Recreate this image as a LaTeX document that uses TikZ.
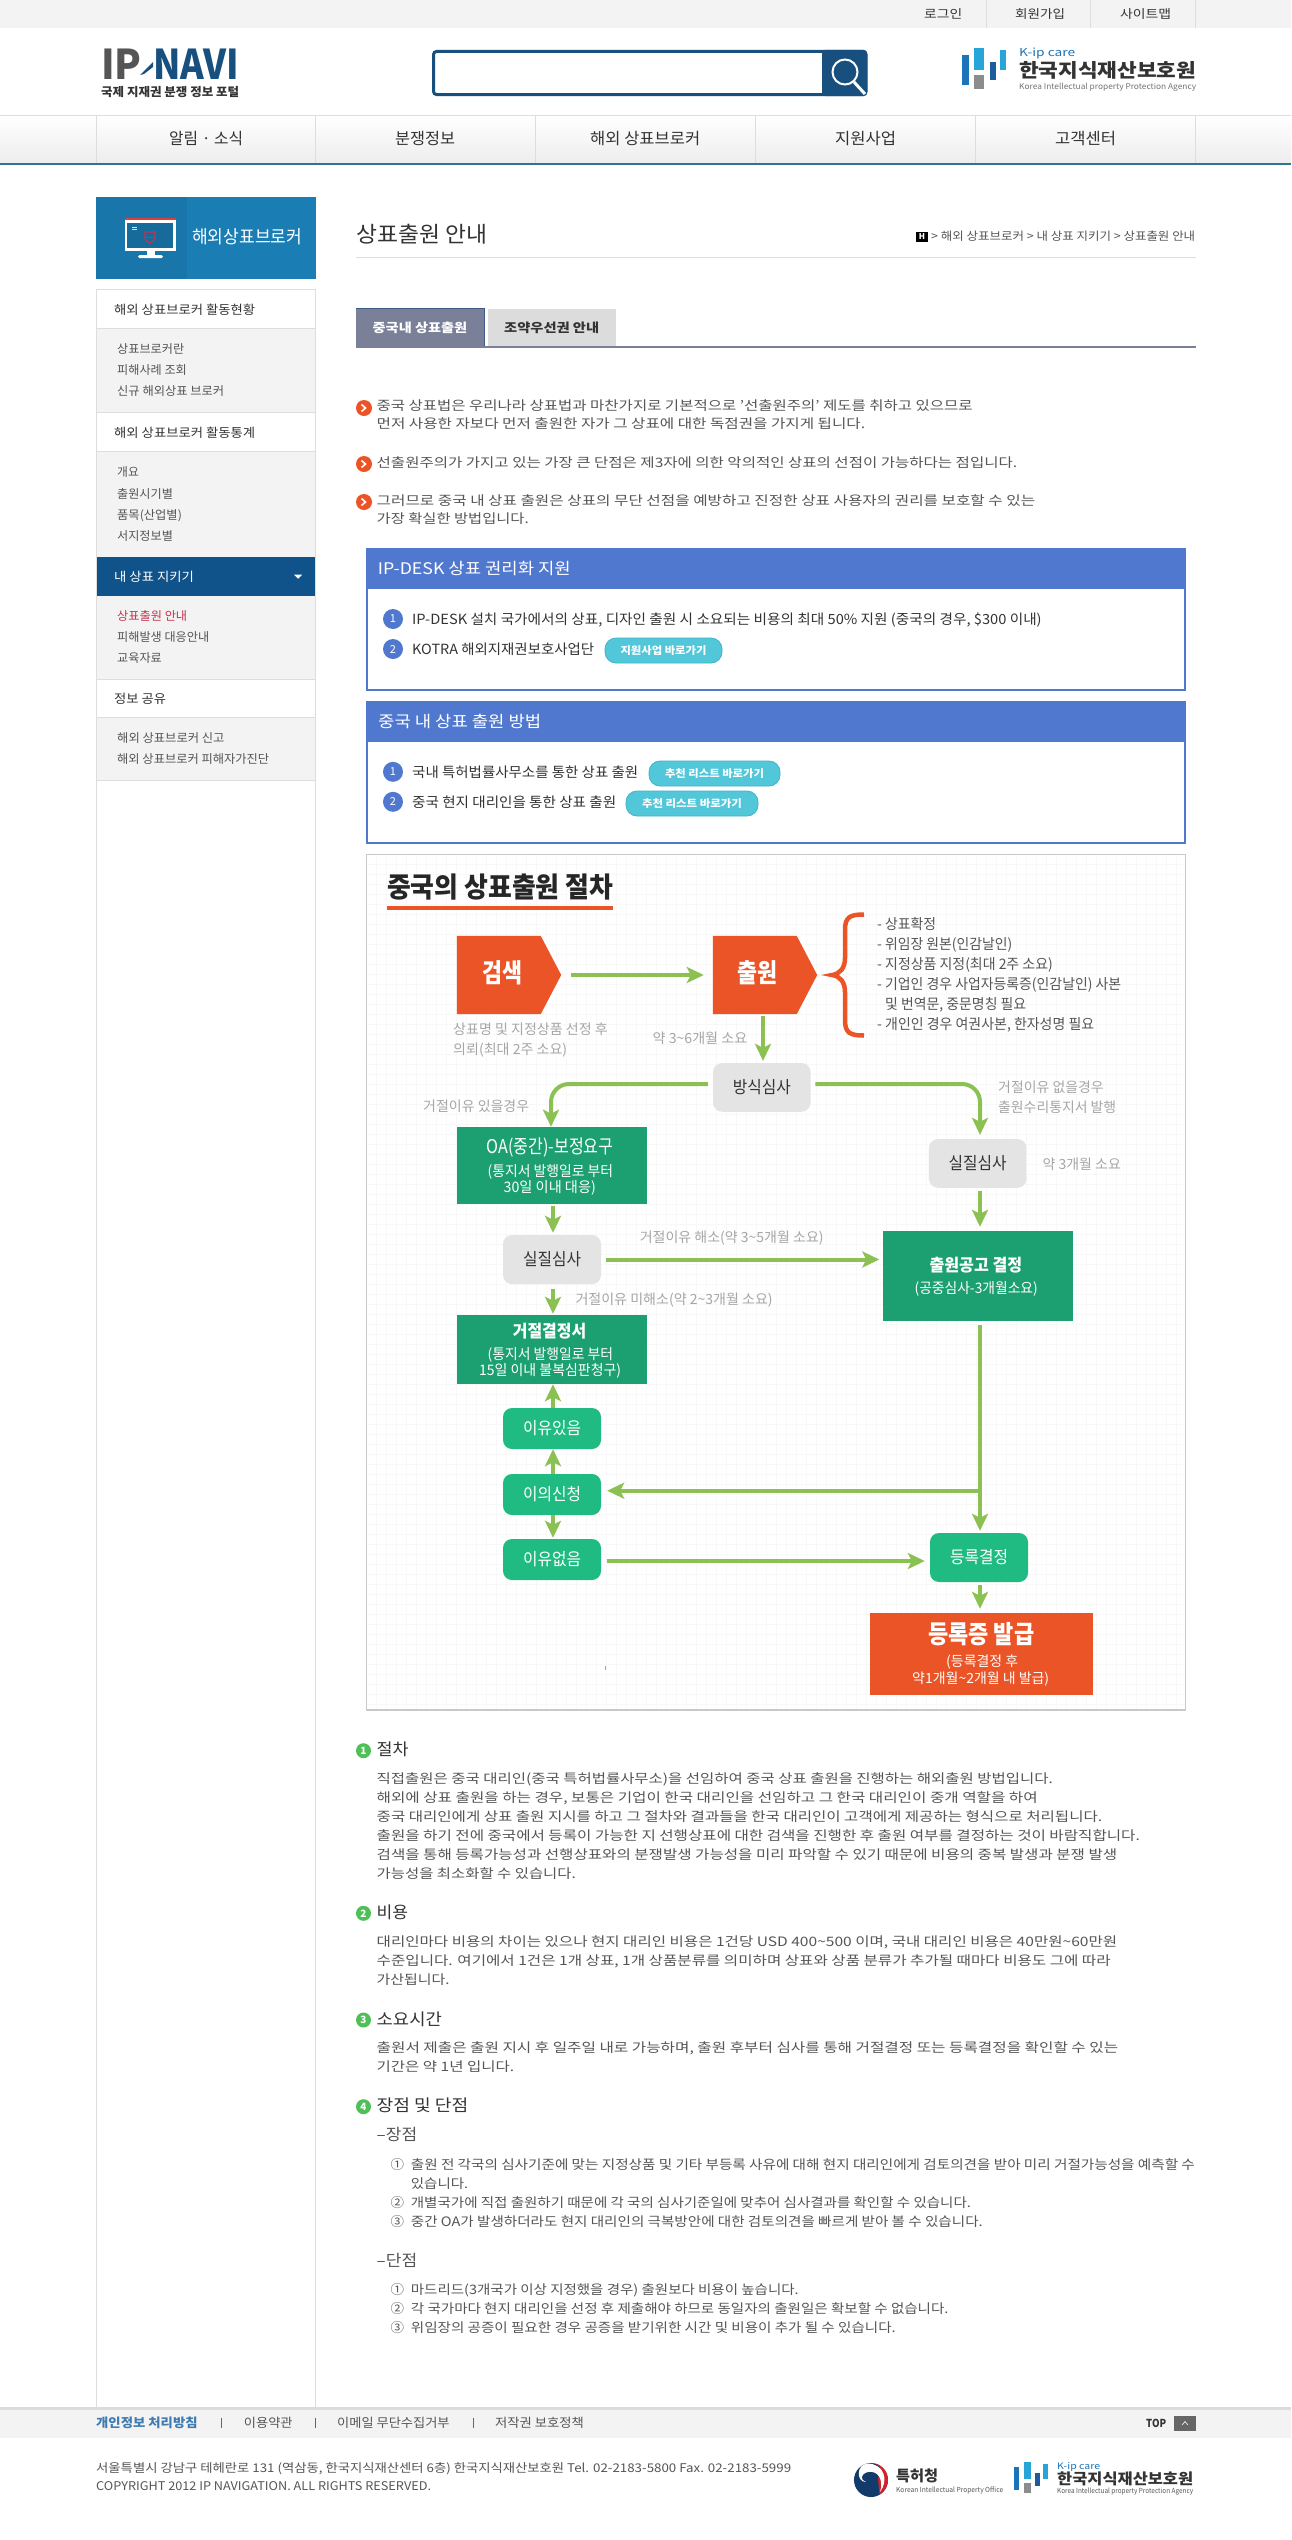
\documentclass[tikz,border=0pt]{standalone}
\usepackage{graphicx}
\usepackage{fontspec}
\setmainfont{Noto Sans CJK KR}
\usetikzlibrary{arrows.meta,calc}
\definecolor{body}{HTML}{555555}
\definecolor{dark}{HTML}{333333}
\definecolor{capt}{HTML}{A6A6A6}
\definecolor{navy}{HTML}{17507F}
\definecolor{hdblue}{HTML}{5178CF}
\definecolor{teal}{HTML}{52C7DA}
\definecolor{tealb}{HTML}{3FB4C6}
\definecolor{orng}{HTML}{EA5426}
\definecolor{gbox}{HTML}{1CA071}
\definecolor{gpill}{HTML}{1FBB82}
\definecolor{flowc}{HTML}{8BC152}
\definecolor{gsec}{HTML}{4FBF57}
\definecolor{tabc}{HTML}{7A8098}
\definecolor{lineg}{HTML}{DDDDDD}
\definecolor{pale}{HTML}{F3F3F3}
\definecolor{gridc}{HTML}{F8F8F8}
\definecolor{banner}{HTML}{1A7EB5}
\definecolor{kblue}{HTML}{1C74B8}
\definecolor{ksky}{HTML}{27A5D8}
\definecolor{kdeep}{HTML}{1C5C9C}
\definecolor{redt}{HTML}{C8324E}
\definecolor{navline}{HTML}{2F7396}
\definecolor{sideb}{HTML}{10528A}
\definecolor{tabedge}{HTML}{3E5A86}
\definecolor{tabtwo}{HTML}{DCDCDC}
\definecolor{frame}{HTML}{C8C8C8}
\definecolor{flink}{HTML}{3E7BB0}
\definecolor{fband}{HTML}{DBDBDB}
\definecolor{topbx}{HTML}{666666}
\definecolor{kipob}{HTML}{123A6B}
\definecolor{kipor}{HTML}{D2232A}
\newsavebox\fitbx
\newcommand{\fitto}[2]{\sbox\fitbx{#2}\pgfmathsetmacro{\fitr}{(#1)/\the\wd\fitbx}\scalebox{\fitr}[1]{\usebox\fitbx}}
% name, x1, x2, y centre, size, colour, text
\newcommand{\TX}[7]{\node[anchor=base west,inner sep=0pt,text=#6] (#1) at (#2,{#4+.38*#5}) {\fontsize{#5}{#5}\selectfont\fitto{#3-#2}{#7}};}
\newcommand{\FT}[3]{\fontsize{#1}{#1}\selectfont\fitto{#2}{#3}}
\newcommand{\wv}{\textasciitilde}
\tikzset{
  flow/.style={draw=flowc,line width=4pt,-{Stealth[length=17pt,width=16pt,inset=4pt]}},
  rgray/.style={fill=lineg!70!pale,rounded corners=9pt,inner sep=0pt,text=dark},
  rgreen/.style={fill=gpill,rounded corners=9pt,inner sep=0pt,text=white,minimum width=98pt},
  gsq/.style={fill=gbox,inner sep=0pt},
  pent/.style={inner sep=0pt,minimum width=104pt,minimum height=78pt},
  numb/.style={circle,fill=hdblue,text=white,inner sep=0pt,minimum size=20pt,font=\fontsize{11}{11}\selectfont},
  sec/.style={circle,fill=gsec,text=white,inner sep=0pt,minimum size=15pt,font=\fontsize{10}{10}\selectfont\bfseries},
  oball/.style={circle,fill=orng,inner sep=0pt,minimum size=16pt},
  chev/.style={draw=white,line width=1.6pt},
  btn/.style={fill=teal,draw=tealb,line width=.8pt,rounded corners=11pt,inner sep=0pt,text=white,minimum height=25pt},
  sep/.style={draw=lineg,line width=1pt},
  gridl/.style={draw=gridc,line width=.5pt}
}
\begin{document}
\begin{tikzpicture}[x=1pt,y=-1pt]
\useasboundingbox (0,0) rectangle (1291,2540);
\fill[white] (0,0) rectangle (1291,2540);
% top bar
\fill[pale] (0,0) rectangle (1291,28);
\foreach \x in {986,1090,1195}{\draw[sep] (\x,0) -- (\x,28);}
\TX{tlogin}{924}{962}{13.5}{12}{dark}{로그인}
\TX{tjoin}{1015}{1065}{13.5}{12}{dark}{회원가입}
\TX{tmap}{1120}{1171}{13.5}{12}{dark}{사이트맵}
% IP-NAVI logo
\node[anchor=base west,inner sep=0pt,text=body] (lgip) at (101,79) {\fontsize{41}{41}\selectfont\bfseries\fitto{40.5}{IP}};
\node[anchor=base west,inner sep=0pt,text=navy] (lgnavi) at (153,79) {\fontsize{41}{41}\selectfont\bfseries\fitto{86}{NAVI}};
\fill[navy] (140,75) -- (153,62) -- (153,67) -- (144,74) -- cycle;
\TX{lgsub}{101}{239}{92}{12}{dark}{\bfseries 국제 지재권 분쟁 정보 포털}
% search
\draw[navy,line width=3pt,rounded corners=3pt,fill=white] (433.5,51.5) rectangle (866,94.5);
\fill[navy,rounded corners=3pt] (822,50) rectangle (867,96);
\fill[navy] (822,50) rectangle (835,96);
\draw[white,line width=2pt] (845,72) circle (12.5);
\draw[white,line width=3pt] (854,82) -- (865,94);
% K-ip logo
\fill[kblue] (962,55) rectangle (969,85);
\fill[ksky] (974,48) rectangle (984,70);
\fill[black!45] (974,75) rectangle (984,89);
\fill[kdeep] (990,62) rectangle (996,80);
\fill[ksky] (1000,50) rectangle (1006,70);
\TX{kcare}{1019}{1075}{52.5}{11}{kblue}{K-ip care}
\TX{kname}{1019}{1196}{70}{19}{dark}{\bfseries 한국지식재산보호원}
\TX{kagency}{1019}{1196}{86.5}{8}{black!55}{Korea Intellectual property Protection Agency}
% nav
\shade[top color=white,bottom color=black!7] (0,116) rectangle (1291,163);
\draw[lineg,line width=1.5pt] (0,115.5) -- (1291,115.5);
\fill[navline] (0,163) rectangle (1291,165);
\foreach \x in {96,315.5,535,755,975,1195.5}{\draw[sep] (\x,116) -- (\x,163);}
\TX{nav1}{169}{243}{138}{16}{dark}{알림 · 소식}
\TX{nav2}{395}{455}{138}{16}{dark}{분쟁정보}
\TX{nav3}{590}{700}{138}{16}{dark}{해외 상표브로커}
\TX{nav4}{835}{896}{138}{16}{dark}{지원사업}
\TX{nav5}{1055}{1116}{138}{16}{dark}{고객센터}
% banner
\fill[banner] (96,197) rectangle (315.5,279);
\fill[black!6!banner] (96,197) rectangle (187,279);
\fill[white] (125,218) rectangle (176,251);
\fill[redt!80!orange] (125,218) rectangle (176,220);
\fill[banner!85!black] (127,222.5) rectangle (173,248);
\fill[white] (147,251) rectangle (155,255);
\fill[white,rounded corners=1.5pt] (138,255) rectangle (163,258);
\draw[redt,line width=1.2pt] (145,232) -- (155,232) -- (155,238) .. controls (155,241) and (152,242) .. (150,243) .. controls (148,242) and (145,241) .. (145,238) -- cycle;
\draw[redt,line width=1pt] (145,237) -- (155,237);
\draw[white!80!redt,line width=.8pt] (132,227) -- (137,227) (132,229.5) -- (137,229.5);
\TX{bann}{192}{302}{237}{18}{white}{해외상표브로커}
% sidebar
\draw[sep] (96,289.5) -- (315.5,289.5);
\fill[pale] (96,328.5) rectangle (315.5,412.3);
\fill[pale] (96,451.4) rectangle (315.5,556.6);
\fill[pale] (96,595.7) rectangle (315.5,679.5);
\fill[pale] (96,717.4) rectangle (315.5,780.5);
\foreach \y in {328.5,412.3,451.4,679.5,717.4,780.5}{\draw[sep] (96,\y) -- (315.5,\y);}
\fill[sideb] (96,556.6) rectangle (315.5,595.7);
\draw[sep] (96,289.5) -- (96,2407);
\draw[sep] (315.5,289.5) -- (315.5,2407);
\TX{sb1}{114}{255}{309.6}{12.5}{dark}{해외 상표브로커 활동현황}
\TX{sb2}{117}{184}{349.2}{12}{body}{상표브로커란}
\TX{sb3}{117}{186.7}{370}{12}{body}{피해사례 조회}
\TX{sb4}{117}{224}{391}{12}{body}{신규 해외상표 브로커}
\TX{sb5}{114}{255}{433}{12.5}{dark}{해외 상표브로커 활동통계}
\TX{sb6}{117}{138.7}{472}{12}{body}{개요}
\TX{sb7}{117}{172.7}{493.5}{12}{body}{출원시기별}
\TX{sb8}{117}{181.7}{514.5}{12}{body}{품목(산업별)}
\TX{sb9}{117}{172.7}{535.6}{12}{body}{서지정보별}
\TX{sb10}{114}{193.7}{577}{12.5}{white}{내 상표 지키기}
\fill[white] (294,574.6) -- (302.3,574.6) -- (298.15,578.8) -- cycle;
\TX{sb11}{117}{187}{616}{12}{redt}{상표출원 안내}
\TX{sb12}{117}{209}{637.4}{12}{body}{피해발생 대응안내}
\TX{sb13}{117}{161.7}{658}{12}{body}{교육자료}
\TX{sb14}{114}{166}{699}{12.5}{dark}{정보 공유}
\TX{sb15}{117}{224.3}{738}{12}{body}{해외 상표브로커 신고}
\TX{sb16}{117}{269}{759}{12}{body}{해외 상표브로커 피해자가진단}
% title
\TX{ttl}{356}{487}{234}{22}{dark}{상표출원 안내}
\draw[lineg,line width=1.5pt] (356,257.5) -- (1196,257.5);
\node[fill=black,text=white,inner sep=0pt,minimum width=12pt,minimum height=10pt,font=\fontsize{8}{8}\selectfont\bfseries] (crumbh) at (922,237) {H};
\TX{crumb}{931}{1195}{236}{11.5}{body}{> 해외 상표브로커 > 내 상표 지키기 > 상표출원 안내}
% tabs
\fill[tabc] (356,308) rectangle (484,346);
\draw[tabedge,line width=1pt] (356,308.5) -- (484,308.5) -- (484,346);
\fill[tabtwo] (488,309) rectangle (616,346);
\fill[tabc] (356,346) rectangle (1196,348);
\TX{tab1}{372.5}{467}{327.5}{12.5}{white}{\bfseries 중국내 상표출원}
\TX{tab2}{504}{599}{327.5}{12.5}{dark}{\bfseries 조약우선권 안내}
% intro
\foreach \n/\y in {oa0/408,ob0/464,oc0/502}{
  \node[oball] (\n) at (364,\y) {};
  \draw[chev] (361.5,\y-3.5) -- (365.5,\y) -- (361.5,\y+3.5);
}
\TX{in1}{376.5}{972.5}{406}{13}{body}{중국 상표법은 우리나라 상표법과 마찬가지로 기본적으로 '선출원주의' 제도를 취하고 있으므로}
\TX{in2}{376.5}{865}{424}{13}{body}{먼저 사용한 자보다 먼저 출원한 자가 그 상표에 대한 독점권을 가지게 됩니다.}
\TX{in3}{376.5}{1017}{462.5}{13}{body}{선출원주의가 가지고 있는 가장 큰 단점은 제3자에 의한 악의적인 상표의 선점이 가능하다는 점입니다.}
\TX{in4}{376.5}{1035}{500.7}{13}{body}{그러므로 중국 내 상표 출원은 상표의 무단 선점을 예방하고 진정한 상표 사용자의 권리를 보호할 수 있는}
\TX{in5}{376.5}{528.6}{518.6}{13}{body}{가장 확실한 방법입니다.}
% box 1
\draw[hdblue,line width=2pt] (367,549) rectangle (1185,690);
\fill[hdblue] (366,548) rectangle (1186,588.6);
\TX{bh1}{377.6}{570.6}{568.6}{16}{white}{IP-DESK 상표 권리화 지원}
\node[numb] (c11) at (393,619) {1};
\node[numb] (c12) at (393,649) {2};
\TX{bi11}{412}{1041.5}{619}{14}{dark}{IP-DESK 설치 국가에서의 상표, 디자인 출원 시 소요되는 비용의 최대 50\% 지원 (중국의 경우, \$300 이내)}
\TX{bi12}{412}{594}{649.3}{14}{dark}{KOTRA 해외지재권보호사업단}
\node[btn,minimum width=117pt] (bt1) at (663.5,650.5) {\FT{10.5}{86}{\bfseries 지원사업 바로가기}};
% box 2
\draw[hdblue,line width=2pt] (367,702) rectangle (1185,842.6);
\fill[hdblue] (366,701) rectangle (1186,742);
\TX{bh2}{378}{541}{721.4}{16}{white}{중국 내 상표 출원 방법}
\node[numb] (c21) at (393,771.8) {1};
\node[numb] (c22) at (393,801.8) {2};
\TX{bi21}{412}{638}{772}{14}{dark}{국내 특허법률사무소를 통한 상표 출원}
\TX{bi22}{412}{616}{802}{14}{dark}{중국 현지 대리인을 통한 상표 출원}
\node[btn,minimum width=131pt] (bt2) at (714.5,773.5) {\FT{10.5}{99}{\bfseries 추천 리스트 바로가기}};
\node[btn,minimum width=132pt] (bt3) at (692,803.5) {\FT{10.5}{100}{\bfseries 추천 리스트 바로가기}};
% diagram frame
\fill[white] (366,854) rectangle (1186,1710.7);
\draw[gridl] \foreach \i in {1,...,81}{({366+10*\i},855) -- ({366+10*\i},1710)};
\draw[gridl] \foreach \i in {1,...,85}{(367,{854+10*\i}) -- (1185,{854+10*\i})};
\draw[frame,line width=1.5pt] (366.5,854.5) rectangle (1185.5,1710);
\TX{dttl}{387}{613}{886.7}{28}{black!85}{\bfseries 중국의 상표출원 절차}
\fill[orng] (387,906) rectangle (613,910);
% column guides
\coordinate (lx) at (553,0);
\coordinate (ox) at (551,0);
\coordinate (mx) at (763,0);
\coordinate (rx) at (980,0);
\coordinate (my) at (0,1084);
\coordinate (by) at (0,1490.7);
\coordinate (ny) at (0,1561);
% pentagons
\node[pent] (s1) at (509,975) {};
\node[pent] (s2) at (765,975) {};
\foreach \n in {s1,s2}{
  \fill[orng] (\n.north west) -- ($(\n.north east)+(-20.5,0)$) -- (\n.east) -- ($(\n.south east)+(-20.5,0)$) -- (\n.south west) -- cycle;
}
\TX{s1t}{482}{522}{973}{26}{white}{\bfseries 검색}
\TX{s2t}{737.5}{777.5}{973}{26}{white}{\bfseries 출원}
\TX{c1}{453}{607.5}{1029}{14}{capt}{상표명 및 지정상품 선정 후}
\TX{c2}{453}{567}{1049}{14}{capt}{의뢰(최대 2주 소요)}
\TX{c3}{652.5}{747}{1038}{14}{capt}{약 3\wv 6개월 소요}
% brace
\draw[orng,line width=4.5pt] (864,914.5) .. controls (850,914.5) and (845,917) .. (845,930) -- (845,958) .. controls (845,968) and (840,974) .. (832,975) .. controls (840,976) and (845,982) .. (845,992) -- (845,1020) .. controls (845,1033) and (850,1035.5) .. (864,1035.5);
\TX{l1}{877}{936}{924.3}{14.5}{body}{- 상표확정}
\TX{l2}{877}{1012}{944.3}{14.5}{body}{- 위임장 원본(인감날인)}
\TX{l3}{877}{1052.6}{964.3}{14.5}{body}{- 지정상품 지정(최대 2주 소요)}
\TX{l4}{877}{1121}{984.3}{14.5}{body}{- 기업인 경우 사업자등록증(인감날인) 사본}
\TX{l5}{885}{1026}{1004}{14.5}{body}{및 번역문, 중문명칭 필요}
\TX{l6}{877}{1094}{1024.3}{14.5}{body}{- 개인인 경우 여권사본, 한자성명 필요}
% flow nodes
\node[rgray,minimum width=97.5pt,minimum height=48.7pt] (m) at (761.8,1087.4) {\FT{17}{58}{방식심사}};
\node[gsq,minimum width=190pt,minimum height=77pt] (oa) at (552,1165.4) {};
\node[rgray,minimum width=97.5pt,minimum height=48.7pt] (r) at (977.7,1163.4) {\FT{17}{58}{실질심사}};
\node[rgray,minimum width=98pt,minimum height=49pt] (e1) at (552,1259.5) {\FT{17}{58}{실질심사}};
\node[gsq,minimum width=190pt,minimum height=90pt] (notice) at (978,1276) {};
\node[gsq,minimum width=190pt,minimum height=69pt] (rej) at (552,1349.5) {};
\node[rgreen,minimum height=41pt] (yes) at (552,1428.5) {\FT{17}{58}{이유있음}};
\node[rgreen,minimum height=41pt] (obj) at (552,1494.5) {\FT{17}{58}{이의신청}};
\node[rgreen,minimum height=41pt] (no) at (552,1559.5) {\FT{17}{58}{이유없음}};
\node[rgreen,minimum height=49pt] (dec) at (979,1557.5) {\FT{17}{58}{등록결정}};
\node[fill=orng,inner sep=0pt,minimum width=223pt,minimum height=82pt] (final) at (981.5,1654) {};
% flow box texts
\TX{oa1}{486.4}{613.4}{1146.7}{19}{white}{OA(중간)-보정요구}
\TX{oa2}{487.5}{613}{1170.7}{14.5}{white}{(통지서 발행일로 부터}
\TX{oa3}{503.5}{595.7}{1186.7}{14.5}{white}{30일 이내 대응)}
\TX{nt1}{929.4}{1022}{1264.7}{17}{white}{\bfseries 출원공고 결정}
\TX{nt2}{914.4}{1037.6}{1288}{14.5}{white}{(공중심사-3개월소요)}
\TX{rj1}{512.7}{586}{1330.7}{17}{white}{\bfseries 거절결정서}
\TX{rj2}{487.5}{613}{1354}{14.5}{white}{(통지서 발행일로 부터}
\TX{rj3}{479}{621}{1370}{14.5}{white}{15일 이내 불복심판청구)}
\TX{f1}{928}{1034}{1634.3}{25}{white}{\bfseries 등록증 발급}
\TX{f2}{946}{1018}{1661}{14}{white}{(등록결정 후}
\TX{f3}{912}{1049}{1677.7}{14}{white}{약1개월\wv 2개월 내 발급)}
% flow labels
\TX{t1}{423}{529}{1106}{14}{capt}{거절이유 있을경우}
\TX{t2}{998}{1103.5}{1087.3}{14}{capt}{거절이유 없을경우}
\TX{t3}{998}{1116}{1107}{14}{capt}{출원수리통지서 발행}
\TX{t4}{1042.4}{1120.7}{1164}{14}{capt}{약 3개월 소요}
\TX{t5}{639.6}{823.4}{1237.3}{14}{capt}{거절이유 해소(약 3\wv 5개월 소요)}
\TX{t6}{575.3}{772.5}{1299.3}{14}{capt}{거절이유 미해소(약 2\wv 3개월 소요)}
% connectors
\draw[flow,shorten <=10pt,shorten >=9pt] (s1.east) -- (s2.west);
\draw[flow,shorten <=2pt,shorten >=2pt] (s2.south -| mx) -- (m.north -| mx);
\draw[flow,rounded corners=18pt,shorten <=5pt] (m.west |- my) -| (oa.north -| ox);
\draw[flow,rounded corners=18pt,shorten <=4.5pt,shorten >=4pt] (m.east |- my) -| (r.north -| rx);
\draw[flow,shorten <=3pt,shorten >=4pt] (r.south -| rx) -- (notice.north -| rx);
\draw[flow,shorten <=1.5pt,shorten >=2pt] (oa.south -| lx) -- (e1.north -| lx);
\draw[flow,shorten <=5pt,shorten >=3.5pt] (e1.east) -- (notice.west |- e1.east);
\draw[flow,shorten <=5pt,shorten >=1pt] (e1.south -| lx) -- (rej.north -| lx);
\draw[flow] (yes.north -| lx) -- (rej.south -| lx);
\draw[flow] (obj.north -| lx) -- (yes.south -| lx);
\draw[flow,shorten >=1pt] (obj.south -| lx) -- (no.north -| lx);
\draw[flow,shorten <=4pt,shorten >=2pt] (notice.south -| rx) -- (dec.north -| rx);
\draw[flow,shorten >=6pt] (rx |- by) -- (obj.east |- by);
\draw[flow,shorten <=6pt,shorten >=5pt] (no.east |- ny) -- (dec.west |- ny);
\draw[flow,shorten <=3pt,shorten >=4pt] (dec.south -| rx) -- (final.north -| rx);
\draw[flowc,line width=.6pt] (605,1665.5) -- (605,1669.5);
% sections
\node[sec] (s01) at (363.5,1750.7) {1};
\TX{h1}{376.5}{408.5}{1749.7}{16.5}{dark}{절차}
\TX{b11}{376.5}{1052.7}{1778.7}{13}{body}{직접출원은 중국 대리인(중국 특허법률사무소)을 선임하여 중국 상표 출원을 진행하는 해외출원 방법입니다.}
\TX{b12}{376.5}{1037.5}{1797.7}{13}{body}{해외에 상표 출원을 하는 경우, 보통은 기업이 한국 대리인을 선임하고 그 한국 대리인이 중개 역할을 하여}
\TX{b13}{376.5}{1102}{1816.7}{13}{body}{중국 대리인에게 상표 출원 지시를 하고 그 절차와 결과들을 한국 대리인이 고객에게 제공하는 형식으로 처리됩니다.}
\TX{b14}{376.5}{1139.7}{1835.7}{13}{body}{출원을 하기 전에 중국에서 등록이 가능한 지 선행상표에 대한 검색을 진행한 후 출원 여부를 결정하는 것이 바람직합니다.}
\TX{b15}{376.5}{1117}{1854.7}{13}{body}{검색을 통해 등록가능성과 선행상표와의 분쟁발생 가능성을 미리 파악할 수 있기 때문에 비용의 중복 발생과 분쟁 발생}
\TX{b16}{376.5}{575.7}{1873.7}{13}{body}{가능성을 최소화할 수 있습니다.}
\node[sec] (s02) at (363.5,1913.3) {2};
\TX{h2}{376.5}{408}{1912.7}{16.5}{dark}{비용}
\TX{b21}{376.5}{1117}{1941.7}{13}{body}{대리인마다 비용의 차이는 있으나 현지 대리인 비용은 1건당 USD 400\wv 500 이며, 국내 대리인 비용은 40만원\wv 60만원}
\TX{b22}{376.5}{1110.5}{1960.7}{13}{body}{수준입니다. 여기에서 1건은 1개 상표, 1개 상품분류를 의미하며 상표와 상품 분류가 추가될 때마다 비용도 그에 따라}
\TX{b23}{376.5}{449.4}{1979.7}{13}{body}{가산됩니다.}
\node[sec] (s03) at (363.5,2020) {3};
\TX{h3}{376.5}{441.6}{2019}{16.5}{dark}{소요시간}
\TX{b31}{376.5}{1118}{2048}{13}{body}{출원서 제출은 출원 지시 후 일주일 내로 가능하며, 출원 후부터 심사를 통해 거절결정 또는 등록결정을 확인할 수 있는}
\TX{b32}{376.5}{514}{2067}{13}{body}{기간은 약 1년 입니다.}
\node[sec] (s04) at (363.5,2106.7) {4};
\TX{h4}{376.5}{468}{2105.7}{16.5}{dark}{장점 및 단점}
\TX{p0}{376.5}{417}{2134.3}{16}{body}{–장점}
\TX{pn1}{390.5}{404}{2164.7}{13}{body}{①}
\TX{p1}{410.7}{1194.7}{2164.7}{13}{body}{출원 전 각국의 심사기준에 맞는 지정상품 및 기타 부등록 사유에 대해 현지 대리인에게 검토의견을 받아 미리 거절가능성을 예측할 수}
\TX{p1b}{410.7}{468}{2183.7}{13}{body}{있습니다.}
\TX{pn2}{390.5}{404}{2202.7}{13}{body}{②}
\TX{p2}{410.7}{970.7}{2202.7}{13}{body}{개별국가에 직접 출원하기 때문에 각 국의 심사기준일에 맞추어 심사결과를 확인할 수 있습니다.}
\TX{pn3}{390.5}{404}{2221.7}{13}{body}{③}
\TX{p3}{410.7}{982.5}{2221.7}{13}{body}{중간 OA가 발생하더라도 현지 대리인의 극복방안에 대한 검토의견을 빠르게 받아 볼 수 있습니다.}
\TX{q0}{376.5}{417}{2260}{16}{body}{–단점}
\TX{qn1}{390.5}{404}{2289.7}{13}{body}{①}
\TX{q1}{410.7}{798.5}{2289.7}{13}{body}{마드리드(3개국가 이상 지정했을 경우) 출원보다 비용이 높습니다.}
\TX{qn2}{390.5}{404}{2308.7}{13}{body}{②}
\TX{q2}{410.7}{948.3}{2308.7}{13}{body}{각 국가마다 현지 대리인을 선정 후 제출해야 하므로 동일자의 출원일은 확보할 수 없습니다.}
\TX{qn3}{390.5}{404}{2327.7}{13}{body}{③}
\TX{q3}{410.7}{895.5}{2327.7}{13}{body}{위임장의 공증이 필요한 경우 공증을 받기위한 시간 및 비용이 추가 될 수 있습니다.}
% footer
\fill[pale] (0,2407) rectangle (1291,2438);
\fill[fband] (0,2407) rectangle (1291,2410);
\TX{fa}{96}{197.4}{2422.7}{12.5}{flink}{\bfseries 개인정보 처리방침}
\TX{fb}{243.7}{292.4}{2422.7}{12.5}{body}{이용약관}
\TX{fc}{337}{449.4}{2422.7}{12.5}{body}{이메일 무단수집거부}
\TX{fd}{495}{583.7}{2422.7}{12.5}{body}{저작권 보호정책}
\foreach \x in {221,315,473}{\draw[black!60,line width=.7pt] (\x,2417.5) -- (\x,2428);}
\TX{ftop}{1146}{1166}{2423}{11}{dark}{\bfseries TOP}
\fill[topbx] (1174,2416) rectangle (1196,2431);
\draw[white,line width=.6pt] (1182,2425) -- (1185,2421.5) -- (1188,2425);
\TX{fad}{96}{791}{2467.7}{12}{body}{서울특별시 강남구 테헤란로 131 (역삼동, 한국지식재산센터 6층) 한국지식재산보호원 Tel. 02-2183-5800 Fax. 02-2183-5999}
\TX{fco}{96}{431}{2486.3}{12}{body}{COPYRIGHT 2012 IP NAVIGATION. ALL RIGHTS RESERVED.}
% KIPO emblem
\fill[kipob] (871,2480) circle (17);
\fill[kipor] (871,2463) arc (-90:60:17) -- (878,2478) .. controls (884,2466) and (876,2463) .. cycle;
\fill[white] (868,2463.5) .. controls (884,2464) and (889,2480) .. (880,2492) .. controls (884,2480) and (878,2470) .. (868,2472) .. controls (860,2474) and (860,2480) .. (866,2482) .. controls (856,2482) and (856,2464) .. (868,2463.5) -- cycle;
\TX{kipo}{896}{938}{2475.7}{15}{dark}{\bfseries 특허청}
\TX{kipoe}{896}{1003}{2489.7}{7}{body}{Korean Intellectual Property Office}
% small K-ip logo
\fill[kblue] (1014,2467) rectangle (1019,2490);
\fill[ksky] (1023.5,2462) rectangle (1031,2479);
\fill[black!45] (1023.5,2483) rectangle (1031,2493);
\fill[kdeep] (1035,2473) rectangle (1040,2486);
\fill[ksky] (1043,2464) rectangle (1048,2479);
\TX{kc2}{1057}{1100}{2466}{9}{kblue}{K-ip care}
\TX{kn2}{1057}{1193}{2478.7}{15}{dark}{\bfseries 한국지식재산보호원}
\TX{ka2}{1057}{1193}{2491}{7}{body}{Korea Intellectual property Protection Agency}
\end{tikzpicture}
\end{document}
